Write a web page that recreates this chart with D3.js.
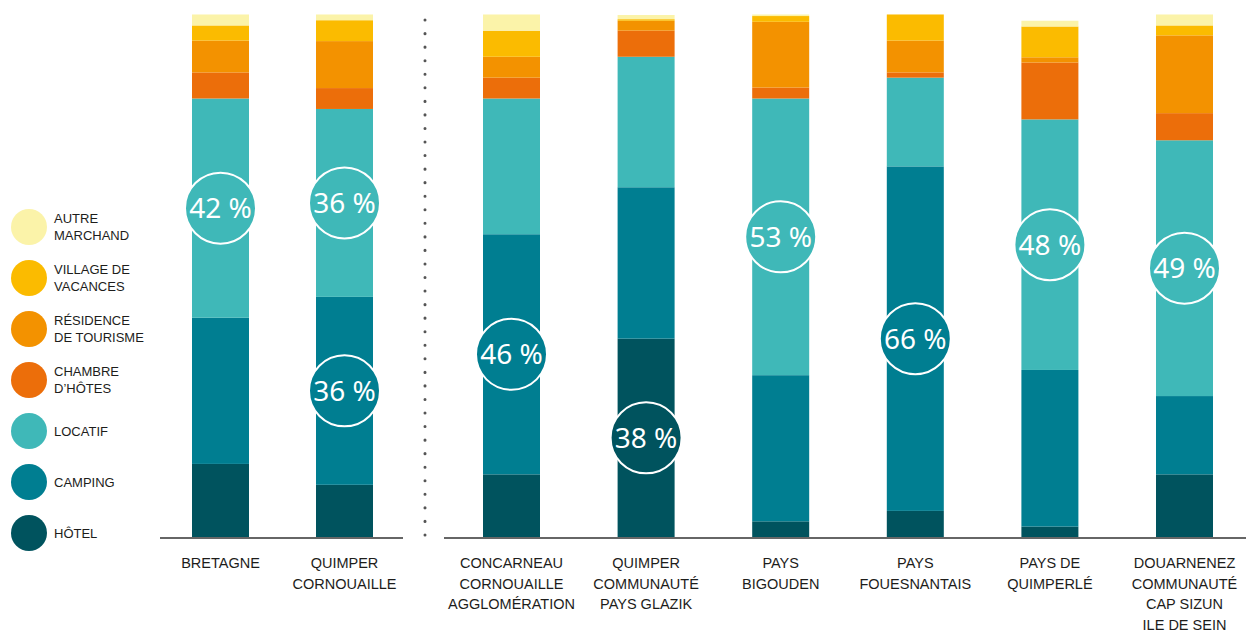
<html>
<head>
<meta charset="utf-8">
<script src="https://d3js.org/d3.v7.min.js"></script>
<style>
body {margin:0; background:#fff;}
svg text {font-family: "Liberation Sans", Arial, sans-serif; fill:#1d1d1b;}
.pct {font-family: "Noto Sans", sans-serif; fill:#fff; font-size:28px;}
</style>
</head>
<body onload="init()">
<svg width="1246" height="631"></svg>
<script>
// territoires (bars)
var categories = ["BRETAGNE", "QUIMPER CORNOUAILLE", "CONCARNEAU", "QUIMPER COMMUNAUTE",
                  "PAYS BIGOUDEN", "PAYS FOUESNANTAIS", "PAYS DE QUIMPERLE", "DOUARNENEZ"];
var catLabels = [["BRETAGNE"], ["QUIMPER", "CORNOUAILLE"],
                 ["CONCARNEAU", "CORNOUAILLE", "AGGLOMÉRATION"],
                 ["QUIMPER", "COMMUNAUTÉ", "PAYS GLAZIK"],
                 ["PAYS", "BIGOUDEN"], ["PAYS", "FOUESNANTAIS"],
                 ["PAYS DE", "QUIMPERLÉ"],
                 ["DOUARNENEZ", "COMMUNAUTÉ", "CAP SIZUN", "ILE DE SEIN"]];

// series, bottom to top
var seriesKeys = ["hotel", "camping", "locatif", "chambre", "residence", "village", "autre"];
var seriesLabels = {
  autre: ["AUTRE", "MARCHAND"],
  village: ["VILLAGE DE", "VACANCES"],
  residence: ["RÉSIDENCE", "DE TOURISME"],
  chambre: ["CHAMBRE", "D’HÔTES"],
  locatif: ["LOCATIF"],
  camping: ["CAMPING"],
  hotel: ["HÔTEL"]
};
var seriesColors = {
  autre: "#fbf3a9", village: "#fbbb00", residence: "#f39200", chambre: "#ec6e0a",
  locatif: "#3fb8b8", camping: "#007e91", hotel: "#00535e"
};

// shares in %
var hotel     = [14, 10, 12, 38, 3, 5, 2, 12];
var camping   = [28, 36, 46, 29, 28, 66, 30, 15];
var locatif   = [42, 36, 26, 25, 53, 17, 48, 49];
var chambre   = [5.0, 4.0, 4.0, 5.0, 2.1, 1.0, 10.9, 5.2];
var residence = [6.1, 9.0, 4.0, 1.9, 12.6, 6.1, 1.0, 14.9];
var village   = [2.9, 4.0, 5.0, 0.3, 1.1, 5.0, 5.9, 1.9];
var autre     = [2.1, 1.1, 3.1, 0.8, 0.3, 0, 1.1, 2.1];

// circled values
var highlights = [["BRETAGNE", "locatif"], ["QUIMPER CORNOUAILLE", "locatif"],
                  ["QUIMPER CORNOUAILLE", "camping"], ["CONCARNEAU", "camping"],
                  ["QUIMPER COMMUNAUTE", "hotel"], ["PAYS BIGOUDEN", "locatif"],
                  ["PAYS FOUESNANTAIS", "camping"], ["PAYS DE QUIMPERLE", "locatif"],
                  ["DOUARNENEZ", "locatif"]];

function init() {
  var values = {hotel: hotel, camping: camping, locatif: locatif, chambre: chambre,
                residence: residence, village: village, autre: autre};
  var table = categories.map(function(c, i) {
    var row = {cat: c};
    seriesKeys.forEach(function(k) { row[k] = values[k][i]; });
    return row;
  });

  var svg = d3.select("svg");
  var barW = 57;
  var baseY = 537;

  var xLeft = d3.scalePoint().domain(categories.slice(0, 2)).range([220.5, 344.5]);
  var xRight = d3.scalePoint().domain(categories.slice(2)).range([511.5, 1184.5]);
  function xc(c) { return categories.indexOf(c) < 2 ? xLeft(c) : xRight(c); }

  var y = d3.scaleLinear().domain([0, 100]).range([baseY, 15]);

  var layers = d3.stack().keys(seriesKeys)(table);

  svg.append("g").selectAll("g").data(layers)
    .enter().append("g")
    .attr("fill", function(d) { return seriesColors[d.key]; })
    .selectAll("rect").data(function(d) { return d; })
    .enter().append("rect")
    .attr("x", function(d) { return xc(d.data.cat) - barW / 2; })
    .attr("y", function(d) { return y(d[1]); })
    .attr("width", barW)
    .attr("height", function(d) { return y(d[0]) - y(d[1]); });

  // baseline, split in two groups
  svg.append("line").attr("x1", 160).attr("x2", 403).attr("y1", baseY + 1).attr("y2", baseY + 1)
    .attr("stroke", "#666").attr("stroke-width", 2);
  svg.append("line").attr("x1", 444).attr("x2", 1246).attr("y1", baseY + 1).attr("y2", baseY + 1)
    .attr("stroke", "#666").attr("stroke-width", 2);

  // dotted separator
  svg.append("line").attr("x1", 425).attr("x2", 425).attr("y1", 20).attr("y2", 546)
    .attr("stroke", "#555").attr("stroke-width", 3)
    .attr("stroke-linecap", "round").attr("stroke-dasharray", "0.1 13.45");

  // highlighted shares
  var hl = svg.append("g").selectAll("g").data(highlights).enter().append("g")
    .attr("transform", function(h) {
      var layer = layers.find(function(l) { return l.key === h[1]; });
      var p = layer[categories.indexOf(h[0])];
      return "translate(" + xc(h[0]) + "," + y((p[0] + p[1]) / 2) + ")";
    });
  hl.append("circle").attr("r", 35.5)
    .attr("fill", function(h) { return seriesColors[h[1]]; })
    .attr("stroke", "#fff").attr("stroke-width", 2);
  hl.append("text").attr("class", "pct").attr("text-anchor", "middle").attr("dy", "0.36em")
    .text(function(h) { return Math.round(values[h[1]][categories.indexOf(h[0])]) + " %"; });

  // category labels
  var lab = svg.append("g").selectAll("text").data(categories).enter().append("text")
    .attr("text-anchor", "middle").style("font-size", "14.5px")
    .attr("transform", function(c) { return "translate(" + xc(c) + ",568)"; });
  lab.selectAll("tspan").data(function(c, i) { return catLabels[i]; })
    .enter().append("tspan").attr("x", 0).attr("y", function(d, i) { return i * 20.5; })
    .text(function(d) { return d; });

  // legend
  var legendKeys = seriesKeys.slice().reverse();
  var leg = svg.append("g").selectAll("g").data(legendKeys).enter().append("g")
    .attr("transform", function(k, i) { return "translate(29," + (227 + i * 51) + ")"; });
  leg.append("circle").attr("r", 18).attr("fill", function(k) { return seriesColors[k]; });
  var lt = leg.append("text").attr("x", 25).style("font-size", "13px");
  lt.selectAll("tspan").data(function(k) { return seriesLabels[k]; })
    .enter().append("tspan").attr("x", 25)
    .attr("y", function(d, i, n) { return (i - (n.length - 1) / 2) * 17.5 + 4.5; })
    .text(function(d) { return d; });
}
</script>
</body>
</html>
